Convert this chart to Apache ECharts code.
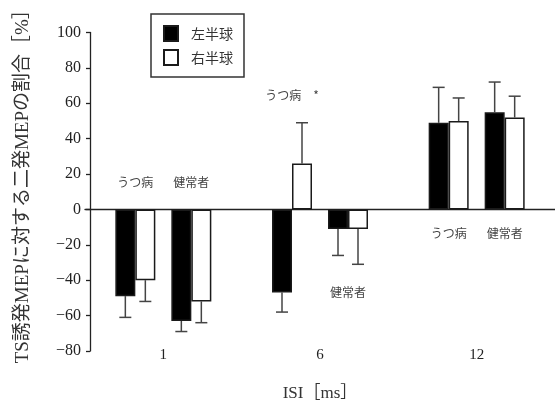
<!DOCTYPE html>
<html>
<head>
<meta charset="utf-8">
<script src="https://cdn.jsdelivr.net/npm/echarts@6/dist/echarts.min.js"></script>
<style>html,body{margin:0;padding:0;background:#fff}#c{width:555px;height:401px}</style>
</head>
<body>
<div id="c"></div>
<script>
// ---- data ----
var categories = ['1', '6', '12'];
// depression (うつ病) group
var depLeft = [-49, -47, 49];
var depRight = [-40, 26, 50];
var depLeftErr = [12, 11, 20];
var depRightErr = [12, 23, 13];
// healthy (健常者) group
var hlLeft = [-63, -11, 55];
var hlRight = [-52, -11, 52];
var hlLeftErr = [6, 15, 17];
var hlRightErr = [12, 20, 12];
var yTicks = {min: -80, max: 100, interval: 20};
// annotations: category index, subgroup, y value, text
var annotCat = [0, 0, 1, 1, 2, 2];
var annotGroup = ['dep', 'hl', 'dep', 'hl', 'dep', 'hl'];
var annotY = [15, 15, 64.5, -47, -13.5, -13.5];
var annotText = ['うつ病', '健常者', 'うつ病　*', '健常者', 'うつ病', '健常者'];

// ---- layout constants ----
var BAR_W = 20, SPACER_W = 16;
var TOTAL = 4 * BAR_W + SPACER_W;
var slotOffset = [
  -TOTAL / 2 + BAR_W / 2,
  -TOTAL / 2 + BAR_W * 1.5,
  TOTAL / 2 - BAR_W * 1.5,
  TOTAL / 2 - BAR_W / 2
];
var groupOffset = {dep: (slotOffset[0] + slotOffset[1]) / 2, hl: (slotOffset[2] + slotOffset[3]) / 2};

var errData = [];
[[depLeft, depLeftErr], [depRight, depRightErr], [hlLeft, hlLeftErr], [hlRight, hlRightErr]].forEach(function (p, slot) {
  p[0].forEach(function (v, i) { errData.push([i, v, p[1][i], slot]); });
});
var annotData = annotCat.map(function (c, i) { return [c, annotY[i]]; });

var SERIF = "'Liberation Serif', 'Noto Sans CJK JP', serif";
var SANS = "'Noto Sans CJK JP', sans-serif";
var barBorder = {borderColor: '#1a1a1a', borderWidth: 1.5};

var chart = echarts.init(document.getElementById('c'), null, {renderer: 'canvas'});
chart.setOption({
  animation: false,
  backgroundColor: '#fff',
  grid: {left: 85, right: 0, top: 32.5, bottom: 50, containLabel: false, outerBoundsMode: 'none'},
  legend: {
    data: ['左半球', '右半球'],
    orient: 'vertical',
    left: 151, top: 14,
    padding: [11, 11, 11, 12],
    itemWidth: 14, itemHeight: 15, itemGap: 7,
    borderColor: '#333', borderWidth: 1.5,
    icon: 'rect',
    textStyle: {fontFamily: SANS, fontSize: 14, color: '#333', padding: [0, 0, 0, 8]}
  },
  xAxis: [{
    type: 'category', data: categories,
    axisLine: {onZero: true, lineStyle: {color: '#222', width: 1.3}},
    axisTick: {show: false}, axisLabel: {show: false}, splitLine: {show: false}
  }, {
    type: 'category', data: categories, position: 'bottom',
    axisLine: {show: false, onZero: false}, axisTick: {show: false},
    axisLabel: {fontFamily: SERIF, fontSize: 15, color: '#222', margin: -3},
    name: 'ISI［ms］', nameLocation: 'middle', nameGap: 34,
    nameTextStyle: {fontFamily: SERIF, fontSize: 17, color: '#333'}
  }],
  yAxis: {
    type: 'value', min: yTicks.min, max: yTicks.max, interval: yTicks.interval,
    offset: -5,
    axisLine: {show: true, onZero: false, lineStyle: {color: '#222', width: 1.3}},
    axisTick: {show: true, length: 4, lineStyle: {color: '#222', width: 1.3}},
    splitLine: {show: false},
    axisLabel: {fontFamily: SERIF, fontSize: 16, color: '#222', margin: 9,
      formatter: function (v) { return String(v).replace('-', '\u2212'); }},
    name: 'TS誘発MEPに対する二発MEPの割合［%］', nameLocation: 'middle', nameGap: 57, nameRotate: 90,
    nameTextStyle: {fontFamily: SERIF, fontSize: 19, color: '#333', padding: [0, 0, 0, 20]}
  },
  series: [
    {name: '左半球', type: 'bar', data: depLeft, barWidth: BAR_W, barGap: '0%', itemStyle: Object.assign({color: '#000'}, barBorder)},
    {name: '右半球', type: 'bar', data: depRight, barWidth: BAR_W, barGap: '0%', itemStyle: Object.assign({color: '#fff'}, barBorder)},
    {name: 'spacer', type: 'bar', data: [null, null, null], barWidth: SPACER_W, barGap: '0%', itemStyle: {color: 'transparent'}},
    {name: '左半球', type: 'bar', data: hlLeft, barWidth: BAR_W, barGap: '0%', itemStyle: Object.assign({color: '#000'}, barBorder)},
    {name: '右半球', type: 'bar', data: hlRight, barWidth: BAR_W, barGap: '0%', itemStyle: Object.assign({color: '#fff'}, barBorder)},
    {
      name: 'err', type: 'custom', data: errData, z: 1,
      encode: {x: 0, y: 1},
      renderItem: function (params, api) {
        var cat = api.value(0), v = api.value(1), e = api.value(2), slot = api.value(3);
        var sign = v >= 0 ? 1 : -1;
        var x = api.coord([cat, 0])[0] + slotOffset[slot];
        var y0 = api.coord([cat, v])[1];
        var y1 = api.coord([cat, v + sign * e])[1];
        var st = {stroke: '#444', lineWidth: 1.5};
        return {type: 'group', children: [
          {type: 'line', shape: {x1: x, y1: y0, x2: x, y2: y1}, style: st},
          {type: 'line', shape: {x1: x - 6, y1: y1, x2: x + 6, y2: y1}, style: st}
        ]};
      }
    },
    {
      name: 'annot', type: 'custom', data: annotData, z: 3,
      encode: {x: 0, y: 1},
      renderItem: function (params, api) {
        var cat = api.value(0), v = api.value(1);
        var p = api.coord([cat, v]);
        var x = api.coord([cat, 0])[0] + groupOffset[annotGroup[params.dataIndex]];
        return {type: 'text', style: {
          text: annotText[params.dataIndex], x: x, y: p[1],
          align: 'center', verticalAlign: 'middle',
          font: '12px ' + SANS, fill: '#444'
        }};
      }
    }
  ]
});
</script>
</body>
</html>
